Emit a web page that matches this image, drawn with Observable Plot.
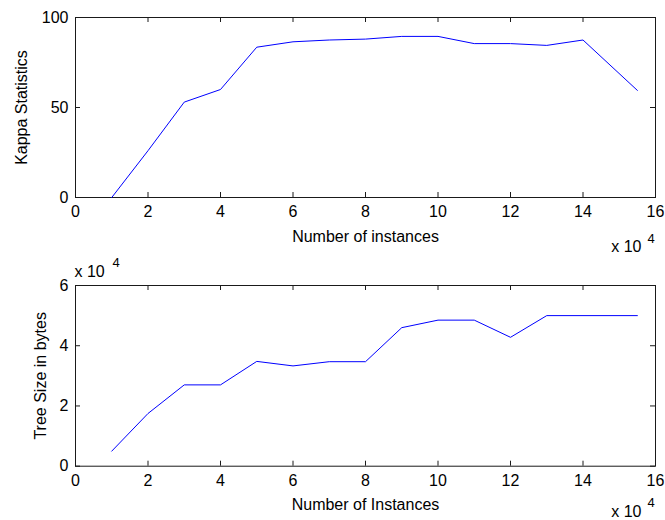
<!DOCTYPE html>
<html>
<head>
<meta charset="utf-8">
<script src="https://cdn.jsdelivr.net/npm/d3@7"></script>
<script src="https://cdn.jsdelivr.net/npm/@observablehq/plot@0.6"></script>
<style>
  html, body { margin: 0; padding: 0; background: white; }
  #chart svg { display: block; }
</style>
</head>
<body>
<div id="chart"></div>
<script>
// Number of instances, in units of 10^4
const instances = [1, 2, 3, 4, 5, 6, 7, 8, 9, 10, 11, 12, 13, 14, 15.5];
// Kappa statistics (%)
const kappa = [0, 26, 53, 60, 83.5, 86.5, 87.5, 88, 89.5, 89.5, 85.5, 85.5, 84.5, 87.5, 59.5];
// Tree size in bytes, in units of 10^4
const treeSize = [0.5, 1.75, 2.7, 2.7, 3.48, 3.33, 3.47, 3.47, 4.6, 4.85, 4.85, 4.28, 5.0, 5.0, 5.0];

const xTicks = [0, 2, 4, 6, 8, 10, 12, 14, 16];
const kappaTicks = [0, 50, 100];
const treeTicks = [0, 2, 4, 6];

const xLabelTop = "Number of instances";
const xLabelBottom = "Number of Instances";
const yLabelTop = "Kappa Statistics";
const yLabelBottom = "Tree Size in bytes";

const W = 665;
const font = {fontFamily: "'Liberation Sans', Arial, sans-serif", fontSize: "16px", color: "black", background: "white"};
const ink = "#1a1a1a";

function panel({values, yDomain, yTicks, yLabel, xLabel, height, marginTop, marginBottom, yLabelDx, topExp, expDy}) {
  const marginLeft = 75, marginRight = 10;
  const innerW = W - marginLeft - marginRight;
  const innerH = height - marginTop - marginBottom;
  const data = instances.map((x, i) => ({x, y: values[i]}));
  const marks = [
    Plot.frame({stroke: ink}),
    Plot.tickX(xTicks, {x: d => d, insetTop: innerH - 5, stroke: ink}),
    Plot.tickX(xTicks, {x: d => d, insetBottom: innerH - 5, stroke: ink}),
    Plot.tickY(yTicks, {y: d => d, insetRight: innerW - 5, stroke: ink}),
    Plot.tickY(yTicks, {y: d => d, insetLeft: innerW - 5, stroke: ink}),
    Plot.axisX({ticks: xTicks, anchor: "bottom", tickSize: 0, tickPadding: 8, label: null, fill: "black", tickFormat: d => String(d)}),
    Plot.axisY({ticks: yTicks, anchor: "left", tickSize: 0, tickPadding: 7, label: null, fill: "black", tickFormat: d => String(d)}),
    Plot.line(data, {x: "x", y: "y", stroke: "#0000ff", strokeWidth: 1}),
    Plot.text([xLabel], {text: d => d, frameAnchor: "bottom", textAnchor: "middle", dy: 39, lineAnchor: "middle", fill: "black"}),
    Plot.text([yLabel], {text: d => d, frameAnchor: "left", textAnchor: "middle", rotate: -90, dx: yLabelDx, lineAnchor: "middle", fill: "black"}),
    Plot.text(["x 10"], {text: d => d, frameAnchor: "bottom-right", textAnchor: "end", dx: -14, dy: expDy, lineAnchor: "middle", fill: "black"}),
    Plot.text(["4"], {text: d => d, frameAnchor: "bottom-right", textAnchor: "start", dx: -8, dy: expDy - 8.5, lineAnchor: "middle", fontSize: 13, fill: "black"})
  ];
  if (topExp) {
    marks.push(
      Plot.text(["x 10"], {text: d => d, frameAnchor: "top-left", textAnchor: "start", dx: -1, dy: -13.4, lineAnchor: "middle", fill: "black"}),
      Plot.text(["4"], {text: d => d, frameAnchor: "top-left", textAnchor: "start", dx: 37, dy: -22.5, lineAnchor: "middle", fontSize: 13, fill: "black"})
    );
  }
  return Plot.plot({
    width: W,
    height,
    marginLeft, marginRight, marginTop, marginBottom,
    style: font,
    x: {domain: [0, 16]},
    y: {domain: yDomain},
    marks
  });
}

const chart = document.getElementById("chart");
chart.append(panel({
  values: kappa, yDomain: [0, 100], yTicks: kappaTicks,
  yLabel: yLabelTop, xLabel: xLabelTop,
  height: 254, marginTop: 17, marginBottom: 57, yLabelDx: -53.4, topExp: false, expDy: 49.6
}));
chart.append(panel({
  values: treeSize, yDomain: [0, 6], yTicks: treeTicks,
  yLabel: yLabelBottom, xLabel: xLabelBottom,
  height: 266, marginTop: 31, marginBottom: 54.3, yLabelDx: -35.1, topExp: true, expDy: 45.5
}));
</script>
</body>
</html>
